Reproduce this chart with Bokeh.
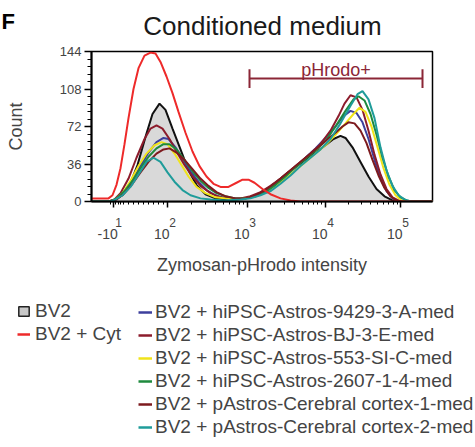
import numpy as np
from bokeh.plotting import figure
from bokeh.models import (Range1d, FixedTicker, LinearAxis, Legend, LegendItem)
from bokeh.layouts import column, row
from bokeh.embed import file_html
from bokeh.resources import INLINE
from bokeh.core.properties import value

FONT = "Liberation Sans"
NB = "\u00a0"
W = 475
HEAD_H = 40

# ---- axes (x in display channels 0-1023 of the biexponential scale) ----
x_major = [66, 228, 468, 702, 927]
x_base_labels = ["-10", "10", "10", "10", "10"]
x_exp_labels = ["1", "2", "3", "4", "5"]
x_near_zero_minor = [57, 72, 81, 87, 96, 111, 126, 141, 156, 171, 186, 201, 216]
y_major = [0, 36, 72, 108, 144]

# ---- histograms ----
bv2_x = [0, 51, 72, 93, 117, 138, 162, 183, 204, 222, 243, 267, 291, 315, 342, 372, 402, 432,
         462, 492, 522, 552, 582, 612, 642, 672, 702, 726, 747, 762, 783, 807, 831, 855, 879,
         903, 927, 1023]
bv2_y = [0, 0, 2, 6, 18, 35, 62, 84, 94, 88, 70, 50, 30, 16, 7, 3, 2, 2, 3, 6, 11, 18, 26, 33,
         40, 47, 54, 60, 63, 61, 52, 38, 24, 12, 5, 1, 0, 0]

cyt_x = [0, 51, 63, 75, 87, 99, 111, 126, 141, 159, 177, 192, 207, 225, 243, 261, 282, 303,
         324, 345, 366, 387, 411, 435, 453, 471, 489, 513, 537, 567, 597, 627, 1023]
cyt_y = [3, 3, 6, 16, 32, 55, 80, 108, 128, 140, 143, 142, 134, 120, 104, 86, 66, 48, 34, 24,
         17, 14, 14, 18, 21, 21, 18, 12, 7, 3, 1, 0, 0]

a9429_x = [0, 57, 75, 99, 123, 147, 171, 195, 216, 231, 252, 273, 297, 321, 345, 372, 402, 432,
           462, 492, 522, 552, 582, 612, 642, 672, 702, 732, 756, 777, 795, 813, 831, 849, 867,
           885, 903, 921, 1023]
a9429_y = [0, 0, 2, 9, 20, 34, 47, 57, 61, 60, 52, 41, 29, 19, 11, 6, 3, 2, 3, 5, 10, 17, 25,
           33, 42, 51, 61, 72, 82, 87, 85, 76, 60, 40, 22, 10, 3, 0, 0]

bj_x = [0, 51, 69, 87, 111, 135, 159, 177, 195, 213, 234, 255, 279, 303, 327, 357, 387, 417,
        447, 477, 507, 537, 567, 597, 627, 657, 687, 717, 741, 759, 777, 795, 813, 831, 849, 867,
        885, 903, 921, 939, 1023]
bj_y = [0, 0, 2, 8, 22, 42, 60, 70, 73, 70, 60, 48, 35, 24, 15, 8, 4, 3, 3, 5, 9, 15, 22, 30,
        38, 46, 55, 68, 82, 94, 102, 100, 88, 68, 45, 26, 12, 4, 1, 0, 0]

a553_x = [0, 57, 72, 93, 117, 141, 165, 189, 210, 228, 249, 270, 291, 315, 342, 372, 402, 432,
          462, 492, 522, 552, 582, 612, 642, 672, 702, 732, 762, 786, 804, 822, 840, 858, 876,
          894, 912, 930, 948, 1023]
a553_y = [0, 0, 2, 8, 20, 34, 46, 54, 57, 55, 46, 35, 24, 14, 8, 4, 3, 2, 3, 5, 9, 15, 22, 30,
          38, 46, 54, 64, 75, 84, 90, 86, 72, 52, 32, 16, 6, 1, 0, 0]

a2607_x = [0, 57, 75, 99, 123, 147, 171, 195, 216, 234, 255, 279, 303, 327, 351, 375, 402, 432,
           462, 492, 522, 552, 582, 612, 642, 672, 702, 732, 762, 786, 801, 819, 837, 855, 873,
           891, 909, 927, 945, 963, 1023]
a2607_y = [0, 0, 3, 10, 20, 32, 43, 51, 55, 55, 50, 40, 29, 20, 13, 8, 5, 3, 3, 5, 9, 16, 24,
           33, 41, 49, 58, 72, 87, 98, 101, 97, 84, 64, 42, 24, 11, 4, 1, 0, 0]

cc1_x = [0, 57, 75, 99, 123, 147, 171, 195, 216, 234, 255, 279, 303, 327, 351, 375, 402, 432,
         462, 492, 522, 552, 582, 612, 642, 672, 702, 732, 753, 771, 789, 807, 825, 843, 861,
         879, 897, 915, 933, 1023]
cc1_y = [0, 0, 2, 8, 17, 28, 38, 46, 50, 51, 47, 40, 31, 22, 15, 9, 5, 3, 3, 6, 11, 18, 26, 34,
         42, 50, 58, 66, 72, 76, 75, 68, 56, 40, 25, 13, 5, 1, 0, 0]

cc2_x = [0, 57, 72, 93, 117, 141, 165, 186, 207, 228, 249, 273, 297, 327, 357, 402, 447, 477,
         507, 537, 567, 597, 627, 657, 687, 717, 747, 777, 798, 813, 831, 849, 867, 885, 903,
         921, 939, 957, 1023]
cc2_y = [0, 0, 2, 6, 14, 26, 38, 42, 38, 28, 19, 11, 6, 3, 2, 1, 2, 3, 6, 10, 17, 25, 34, 42,
         50, 60, 75, 92, 103, 106, 98, 80, 52, 30, 15, 6, 2, 0, 0]

# gate
gate_x = [474, 993]
gate_y = 118
gate_label = "pHrodo+"

panel_letter = "F"
title_text = "Conditioned medium"

series = [
    ("BV2 + hiPSC-Astros-9429-3-A-med", a9429_x, a9429_y, "#3d3f9c"),
    ("BV2 + hiPSC-Astros-BJ-3-E-med", bj_x, bj_y, "#8c1c2c"),
    ("BV2 + hiPSC-Astros-553-SI-C-med", a553_x, a553_y, "#f0e31a"),
    ("BV2 + hiPSC-Astros-2607-1-4-med", a2607_x, a2607_y, "#1f8a3e"),
    ("BV2 + pAstros-Cerebral cortex-1-med", cc1_x, cc1_y, "#7d1a1e"),
    ("BV2 + pAstros-Cerebral cortex-2-med", cc2_x, cc2_y, "#1f9c9a"),
]
RED = "#ee2a2a"
GRAY = "#d9d9d9"
GATE_C = "#8b2636"


def blank(fig):
    fig.xgrid.visible = False
    fig.ygrid.visible = False
    fig.outline_line_color = None


# ---- heading strip (panel letter + title) ----
head = figure(width=W, height=HEAD_H, x_range=Range1d(0, W), y_range=Range1d(HEAD_H, 0),
              output_backend="svg", toolbar_location=None, min_border=0,
              x_axis_location=None, y_axis_location=None, title_location=None)
blank(head)
head.text(x=[1], y=[21], text=[panel_letter], text_font=value(FONT), text_font_size="22px",
          text_font_style="bold", text_color="black", text_baseline="alphabetic")
head.text(x=[262], y=[25], text=[title_text], text_font=value(FONT), text_font_size="26px",
          text_color="#1a1a1a", text_align="center", text_baseline="alphabetic")

# ---- main chart ----
p = figure(width=W, height=248, x_range=Range1d(0, 1023), y_range=Range1d(0, 144),
           output_backend="svg", toolbar_location=None, title_location=None,
           min_border_left=91, min_border_right=43, min_border_top=11, min_border_bottom=87)
p.xgrid.visible = False
p.ygrid.visible = False
p.outline_line_color = "black"
p.outline_line_width = 1.5
p.background_fill_color = "white"
p.border_fill_color = "white"

# y axis
yax = p.yaxis[0]
minor_y = [v for v in np.arange(0, 144.01, 7.2) if v not in y_major]
yax.ticker = FixedTicker(ticks=y_major, minor_ticks=[float(v) for v in minor_y])
yax.axis_label = "Count"
yax.axis_label_text_font = FONT
yax.axis_label_text_font_size = "18px"
yax.axis_label_text_font_style = "normal"
yax.axis_label_standoff = 31
yax.major_label_text_font = FONT
yax.major_label_text_font_size = "13px"
yax.major_label_standoff = 3
yax.axis_line_width = 2
yax.major_tick_out = 7
yax.major_tick_in = 0
yax.minor_tick_out = 4
yax.minor_tick_in = 0
yax.major_tick_line_width = 1.5

# x axis: minor ticks
minor_x = list(x_near_zero_minor)
for i in range(1, len(x_major) - 1):
    a, b = x_major[i], x_major[i + 1]
    for k in range(2, 10):
        minor_x.append(a + np.log10(k) * (b - a))
ticker = FixedTicker(ticks=x_major, minor_ticks=[float(v) for v in minor_x])

xa = p.xaxis[0]
xa.ticker = ticker
xa.major_label_overrides = {t: NB * 3 + s for t, s in zip(x_major, x_exp_labels)}
xa.major_label_text_font = FONT
xa.major_label_text_font_size = "12px"
xa.major_label_standoff = 8
xa.axis_line_width = 2
xa.major_tick_out = 6
xa.major_tick_in = 0
xa.minor_tick_out = 3
xa.minor_tick_in = 0
xa.major_tick_line_width = 1.5

xb = LinearAxis(ticker=FixedTicker(ticks=x_major, minor_ticks=[]))
xb.major_label_overrides = {t: s + NB * 3 for t, s in zip(x_major, x_base_labels)}
xb.major_label_text_font = FONT
xb.major_label_text_font_size = "14px"
xb.major_label_standoff = -7
xb.axis_line_color = None
xb.major_tick_line_color = None
xb.minor_tick_line_color = None
xb.major_tick_out = 0
xb.major_tick_in = 0
xb.minor_tick_out = 0
xb.minor_tick_in = 0
xb.axis_label = "Zymosan-pHrodo intensity"
xb.axis_label_text_font = FONT
xb.axis_label_text_font_size = "18px"
xb.axis_label_text_font_style = "normal"
xb.axis_label_standoff = 10
p.add_layout(xb, "below")

# data
p.varea(x=bv2_x, y1=0, y2=bv2_y, fill_color=GRAY)
p.line(bv2_x, bv2_y, line_color="#111111", line_width=2)
for name, xs, ys, c in series:
    p.line(xs, ys, line_color=c, line_width=2)
p.line(cyt_x, cyt_y, line_color=RED, line_width=2)

# gate
p.segment(x0=[gate_x[0]], y0=[gate_y], x1=[gate_x[1]], y1=[gate_y], line_color=GATE_C, line_width=2)
p.segment(x0=gate_x, y0=[gate_y - 9] * 2, x1=gate_x, y1=[gate_y + 9] * 2, line_color=GATE_C, line_width=2)
p.text(x=[sum(gate_x) / 2], y=[gate_y + 8], text=[gate_label], text_align="center",
       text_baseline="alphabetic", text_font=value(FONT), text_font_size="18px", text_color=GATE_C)

# ---- legend strip ----
p2 = figure(width=W, height=151, x_range=Range1d(0, 1), y_range=Range1d(0, 1),
            output_backend="svg", toolbar_location=None, min_border=0, title_location=None,
            x_axis_location=None, y_axis_location=None)
blank(p2)

OFF = [5, 6]
r_bv2 = p2.quad(left=[5], right=[6], top=[6], bottom=[5], fill_color="#c8c8c8",
                line_color="#222222", line_width=1.5)
r_cyt = p2.line(x=OFF, y=OFF, line_color=RED, line_width=2.5)
items2 = []
for name, xs, ys, c in series:
    r = p2.line(x=OFF, y=OFF, line_color=c, line_width=2.5)
    items2.append(LegendItem(label=name, renderers=[r]))


def style_leg(lg, gw, standoff):
    lg.label_text_font = FONT
    lg.label_text_font_size = "19px"
    lg.glyph_width = gw
    lg.glyph_height = 12
    lg.label_standoff = standoff
    lg.spacing = 1
    lg.padding = 0
    lg.margin = 0
    lg.border_line_color = None
    lg.background_fill_alpha = 0
    lg.label_height = 20


leg1 = Legend(items=[LegendItem(label="BV2", renderers=[r_bv2]),
                     LegendItem(label="BV2 + Cyt", renderers=[r_cyt])], location=(17, 94))
style_leg(leg1, 13, 5)
leg2 = Legend(items=items2, location=(138, 1))
style_leg(leg2, 14, 3)
p2.add_layout(leg1, "center")
p2.add_layout(leg2, "center")

layout = column(row(head), p, row(p2), spacing=0)
open("out.html", "w").write(file_html(layout, INLINE))
